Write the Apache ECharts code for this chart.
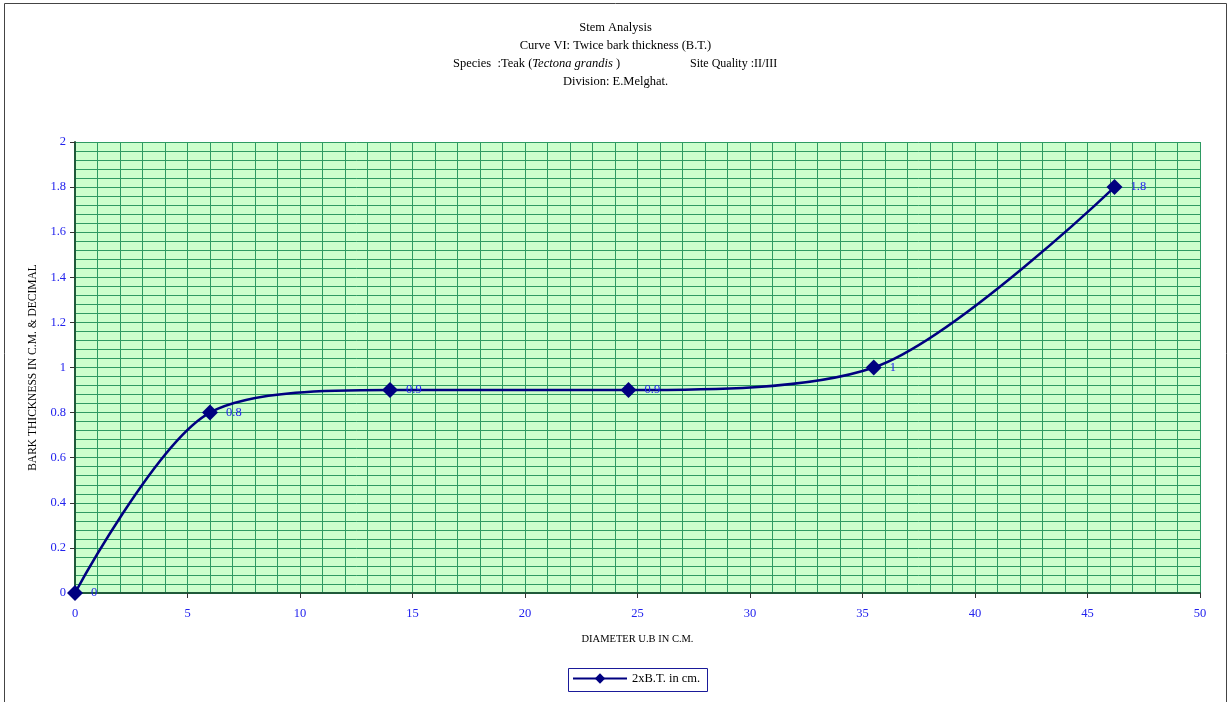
<!DOCTYPE html>
<html>
<head>
<meta charset="utf-8">
<script src="https://cdn.jsdelivr.net/npm/echarts@6/dist/echarts.min.js"></script>
<style>
  html, body { margin: 0; padding: 0; background: #ffffff; }
  #chart { width: 1231px; height: 702px; }
</style>
</head>
<body>
<div id="chart"></div>
<script>
// Diameter under bark (cm) and twice bark thickness (cm)
const diameters = [0, 6, 14, 24.6, 35.5, 46.2];
const barkThickness = [0, 0.8, 0.9, 0.9, 1.0, 1.8];
const seriesName = '2xB.T. in cm.';
const titleLines = [
  'Stem Analysis',
  'Curve VI: Twice bark thickness (B.T.)',
  'Division: E.Melghat.'
];
const xAxisName = 'DIAMETER U.B IN C.M.';
const yAxisName = 'BARK THICKNESS IN C.M. & DECIMAL';

const serif = '"Liberation Serif", "DejaVu Serif", serif';
const gridGreen = '#2e9a62';
const axisGreen = '#1f5a3a';
const tickBlue = '#2222ee';

const chart = echarts.init(document.getElementById('chart'), null, { renderer: 'canvas' });

chart.setOption({
  animation: false,
  backgroundColor: '#ffffff',
  textStyle: { fontFamily: serif },
  graphic: [
    {
      type: 'rect',
      shape: { x: 4.5, y: 3.5, width: 1222, height: 710 },
      style: { fill: 'none', stroke: '#444444', lineWidth: 1 },
      silent: true
    },
    {
      type: 'text', left: 'center', top: 21,
      style: { text: titleLines[0], font: '12.5px ' + serif, fill: '#000' }
    },
    {
      type: 'text', left: 'center', top: 39,
      style: { text: titleLines[1], font: '12.5px ' + serif, fill: '#000' }
    },
    {
      type: 'text', left: 453, top: 57,
      style: {
        text: '{n|Species  :Teak (}{i|Tectona grandis}{n| )}',
        rich: {
          n: { font: '12.5px ' + serif, fill: '#000' },
          i: { font: 'italic 12.5px ' + serif, fill: '#000' }
        }
      }
    },
    {
      type: 'text', left: 690, top: 58,
      style: { text: 'Site Quality :II/III', font: '12px ' + serif, fill: '#000' }
    },
    {
      type: 'text', left: 'center', top: 75,
      style: { text: titleLines[2], font: '12.5px ' + serif, fill: '#000' }
    },
    {
      type: 'rect',
      shape: { x: 568.5, y: 668.5, width: 139, height: 23 },
      style: { fill: '#ffffff', stroke: '#1a1a99', lineWidth: 1 },
      silent: true,
      z: 0
    }
  ],
  legend: {
    data: [seriesName],
    left: 572,
    top: 672,
    itemWidth: 54,
    itemHeight: 13,
    itemGap: 4,
    padding: 0,
    textStyle: { fontFamily: serif, fontSize: 12.5, color: '#000' },
    z: 10
  },
  grid: {
    left: 75,
    right: 31,
    top: 142,
    bottom: 109,
    show: true,
    backgroundColor: '#ccffcc',
    borderWidth: 0,
    containLabel: false
  },
  xAxis: {
    type: 'value',
    min: 0,
    max: 50,
    interval: 5,
    name: xAxisName,
    nameLocation: 'middle',
    nameGap: 41,
    nameTextStyle: { fontFamily: serif, fontSize: 10.5, color: '#000' },
    axisLine: { show: true, onZero: false, lineStyle: { color: axisGreen, width: 2 } },
    axisTick: { show: true, length: 5, lineStyle: { color: '#333', width: 1 } },
    axisLabel: { color: tickBlue, fontFamily: serif, fontSize: 12.5, margin: 14 },
    splitLine: { show: true, lineStyle: { color: gridGreen, width: 1 } },
    minorTick: { show: false, splitNumber: 5 },
    minorSplitLine: { show: true, lineStyle: { color: gridGreen, width: 1 } }
  },
  yAxis: {
    type: 'value',
    min: 0,
    max: 2,
    interval: 0.2,
    name: yAxisName,
    nameLocation: 'middle',
    nameGap: 33,
    nameRotate: 90,
    nameTextStyle: { fontFamily: serif, fontSize: 11.5, color: '#000' },
    axisLine: { show: true, onZero: false, lineStyle: { color: axisGreen, width: 2 } },
    axisTick: { show: true, length: 5, lineStyle: { color: '#333', width: 1 } },
    axisLabel: { color: tickBlue, fontFamily: serif, fontSize: 12.5, margin: 9 },
    splitLine: { show: true, lineStyle: { color: gridGreen, width: 1 } },
    minorTick: { show: false, splitNumber: 5 },
    minorSplitLine: { show: true, lineStyle: { color: gridGreen, width: 1 } }
  },
  series: [
    {
      name: seriesName,
      type: 'line',
      data: diameters.map((d, i) => [d, barkThickness[i]]),
      smooth: 0.3,
      symbol: 'diamond',
      symbolSize: 16,
      clip: false,
      lineStyle: { color: '#000080', width: 2.5 },
      itemStyle: { color: '#000080' },
      label: {
        show: true,
        position: 'right',
        distance: 8,
        color: tickBlue,
        fontFamily: serif,
        fontSize: 12.5,
        formatter: p => String(p.value[1])
      },
      z: 5
    }
  ]
});
</script>
</body>
</html>
